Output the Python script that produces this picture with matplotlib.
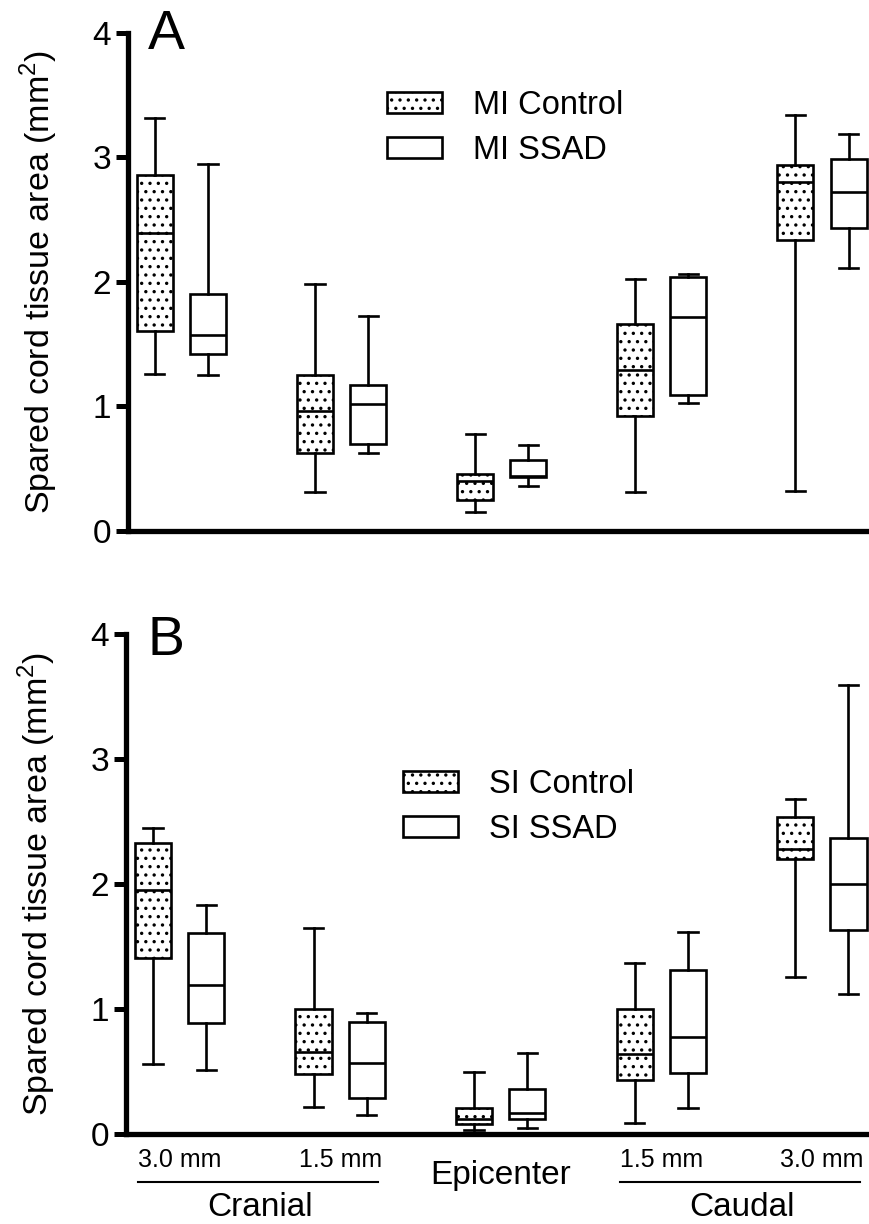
import numpy as np
import matplotlib
matplotlib.use('Agg')
from matplotlib import pyplot as plt
from matplotlib.patches import Patch

plt.rcParams['font.family'] = ['Liberation Sans', 'DejaVu Sans']
plt.rcParams['mathtext.fontset'] = 'custom'
plt.rcParams['mathtext.rm'] = 'Liberation Sans'
plt.rcParams['hatch.linewidth'] = 1.2

sites = ['Cranial 3.0 mm', 'Cranial 1.5 mm', 'Epicenter', 'Caudal 1.5 mm', 'Caudal 3.0 mm']
site_labels = ['3.0 mm', '1.5 mm', 'Epicenter', '1.5 mm', '3.0 mm']

# panel A - moderate injury
mi_ctrl_lo = [1.26, 0.31, 0.15, 0.31, 0.32]
mi_ctrl_q1 = [1.61, 0.63, 0.25, 0.92, 2.34]
mi_ctrl_med = [2.39, 0.96, 0.40, 1.29, 2.80]
mi_ctrl_q3 = [2.86, 1.25, 0.46, 1.66, 2.94]
mi_ctrl_hi = [3.32, 1.98, 0.78, 2.02, 3.34]

mi_ssad_lo = [1.25, 0.63, 0.36, 1.03, 2.11]
mi_ssad_q1 = [1.42, 0.70, 0.43, 1.09, 2.43]
mi_ssad_med = [1.57, 1.02, 0.44, 1.72, 2.72]
mi_ssad_q3 = [1.90, 1.17, 0.57, 2.04, 2.99]
mi_ssad_hi = [2.95, 1.73, 0.69, 2.06, 3.19]

# panel B - severe injury
si_ctrl_lo = [0.56, 0.22, 0.03, 0.09, 1.26]
si_ctrl_q1 = [1.41, 0.48, 0.08, 0.43, 2.20]
si_ctrl_med = [1.95, 0.66, 0.12, 0.64, 2.28]
si_ctrl_q3 = [2.33, 1.00, 0.21, 1.00, 2.54]
si_ctrl_hi = [2.45, 1.65, 0.50, 1.37, 2.68]

si_ssad_lo = [0.51, 0.15, 0.05, 0.21, 1.12]
si_ssad_q1 = [0.89, 0.29, 0.12, 0.49, 1.63]
si_ssad_med = [1.19, 0.57, 0.17, 0.78, 2.00]
si_ssad_q3 = [1.61, 0.90, 0.36, 1.31, 2.37]
si_ssad_hi = [1.83, 0.97, 0.65, 1.62, 3.59]

ylabel = 'Spared cord tissue area (mm$^2$)'


def make_stats(lo, q1, med, q3, hi):
    return [dict(whislo=a, q1=b, med=c, q3=d, whishi=e, fliers=[])
            for a, b, c, d, e in zip(lo, q1, med, q3, hi)]


def draw_panel(ax, ctrl, ssad):
    pos = np.arange(len(sites))
    off = 0.166
    lw = 1.9
    for stats, shift, hatch in [(ctrl, -off, '..'), (ssad, off, None)]:
        arts = ax.bxp(stats, positions=pos + shift, widths=0.225, capwidths=0.12,
                      patch_artist=True, showfliers=False, manage_ticks=False,
                      boxprops=dict(facecolor='white', edgecolor='black', linewidth=lw),
                      whiskerprops=dict(color='black', linewidth=lw),
                      capprops=dict(color='black', linewidth=lw),
                      medianprops=dict(color='black', linewidth=lw))
        for b in arts['boxes']:
            if hatch:
                b.set_hatch(hatch)

    ax.set_xlim(-0.334, 4.30)
    ax.set_ylim(0, 4)
    ax.set_yticks([0, 1, 2, 3, 4])
    ax.set_xticks([])
    for s in ['top', 'right']:
        ax.spines[s].set_visible(False)
    for s in ['left', 'bottom']:
        ax.spines[s].set_linewidth(3.8)
    ax.tick_params(axis='y', direction='out', length=9, width=3.6, labelsize=24, pad=3)
    ax.set_ylabel(ylabel, fontsize=24.5)
    ax.yaxis.set_label_coords(-0.092, 0.5)

    handles = [Patch(facecolor='white', edgecolor='black', hatch='..', linewidth=1.9),
               Patch(facecolor='white', edgecolor='black', linewidth=1.9)]
    return handles


fig = plt.figure(figsize=(8.7, 12.24), dpi=100)

axA = fig.add_axes([0.1471, 0.5662, 0.8529, 0.4069])
h = draw_panel(axA, make_stats(mi_ctrl_lo, mi_ctrl_q1, mi_ctrl_med, mi_ctrl_q3, mi_ctrl_hi),
               make_stats(mi_ssad_lo, mi_ssad_q1, mi_ssad_med, mi_ssad_q3, mi_ssad_hi))
axA.legend(h, ['MI Control', 'MI SSAD'], loc='upper left', bbox_to_anchor=(0.349, 0.885),
           frameon=False, fontsize=23.5, handlelength=1.7, handleheight=0.62,
           handletextpad=0.93, labelspacing=0.42, borderpad=0, borderaxespad=0)

axB = fig.add_axes([0.1448, 0.0735, 0.8552, 0.4085])
h = draw_panel(axB, make_stats(si_ctrl_lo, si_ctrl_q1, si_ctrl_med, si_ctrl_q3, si_ctrl_hi),
               make_stats(si_ssad_lo, si_ssad_q1, si_ssad_med, si_ssad_q3, si_ssad_hi))
axB.legend(h, ['SI Control', 'SI SSAD'], loc='upper left', bbox_to_anchor=(0.372, 0.73),
           frameon=False, fontsize=23.5, handlelength=1.7, handleheight=0.62,
           handletextpad=0.93, labelspacing=0.42, borderpad=0, borderaxespad=0)

fig.text(148 / 870, 1 - 49 / 1224, 'A', fontsize=40, va='baseline', ha='left')
fig.text(148 / 870, 1 - 655 / 1224, 'B', fontsize=40, va='baseline', ha='left')

# site labels under panel B
tr = axB.get_xaxis_transform()
for i, lab in enumerate(site_labels):
    if lab == 'Epicenter':
        axB.text(i, -0.082, lab, transform=tr, ha='center', va='center', fontsize=24)
    else:
        axB.text(i, -0.052, lab, transform=tr, ha='center', va='center', fontsize=18)

for name, grp in [('Cranial', [0, 1]), ('Caudal', [3, 4])]:
    axB.plot([grp[0] - 0.26, grp[1] + 0.235], [-0.096, -0.096], transform=tr,
             color='black', linewidth=1.5, clip_on=False)
    axB.text(np.mean(grp), -0.147, name, transform=tr, ha='center', va='center', fontsize=24)

fig.savefig('out.png', dpi=100)
